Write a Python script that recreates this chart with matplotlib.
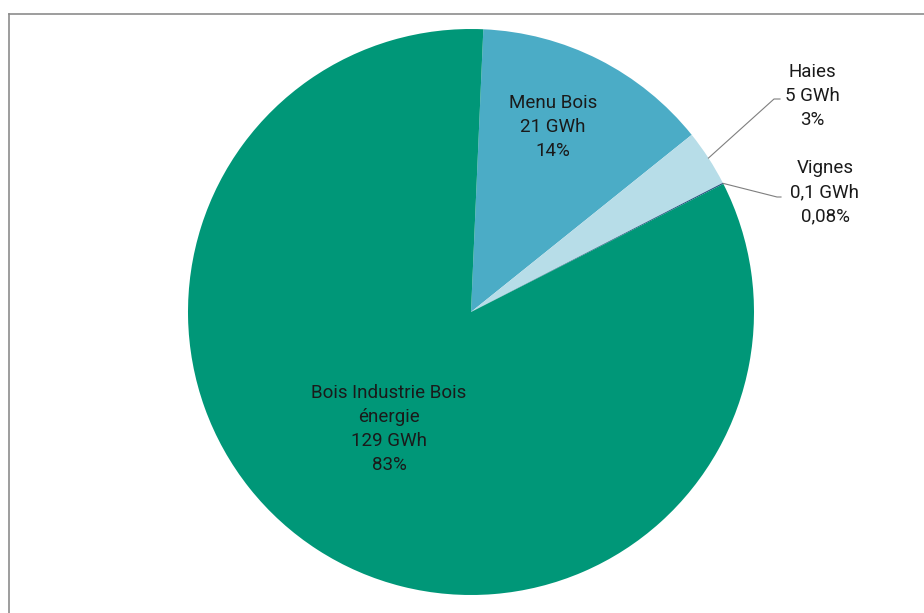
import numpy as np
import matplotlib.pyplot as plt
from matplotlib.lines import Line2D

labels = ["Menu Bois", "Haies", "Vignes", "Bois Industrie Bois\nénergie"]
gwh = [21, 5, 0.1, 129]
gwh_text = ["21 GWh", "5 GWh", "0,1 GWh", "129 GWh"]
pct_text = ["14%", "3%", "0,08%", "83%"]
colors = ["#4bacc6", "#b7dde8", "#1f497d", "#009778"]

plt.rcParams['font.family'] = ['Roboto', 'DejaVu Sans']

W, H = 924, 613
cx, cy, R = 471, 312, 283

fig = plt.figure(figsize=(W / 100, H / 100), dpi=100)
ax = fig.add_axes([0, 0, 1, 1])

wedges, _ = ax.pie(gwh, colors=colors, startangle=87.5, counterclock=False,
                   wedgeprops=dict(linewidth=0))
ax.set_xlim(-cx / R, (W - cx) / R)
ax.set_ylim(-(H - cy) / R, cy / R)
ax.set_aspect('equal')
ax.axis('off')


def px(x, y):
    return (x - cx) / R, (cy - y) / R


fs = 13.5
ls = 1.45
tcol = '#1a1a1a'
# labels inside slices
x, y = px(553, 127)
ax.text(x, y, f"{labels[0]}\n{gwh_text[0]}\n{pct_text[0]}", ha='center', va='center',
        fontsize=fs, color=tcol, linespacing=ls)
x, y = px(389, 429)
ax.text(x, y, f"{labels[3]}\n{gwh_text[3]}\n{pct_text[3]}", ha='center', va='center',
        fontsize=fs, color=tcol, linespacing=ls)

# outside labels with leader lines
outside = [(1, (812, 96), (774, 99), 6), (2, (825, 192), (777, 197), 4)]
for i, (tx, ty), (lx, ly), tail in outside:
    w = wedges[i]
    ang = np.deg2rad((w.theta1 + w.theta2) / 2)
    sx, sy = np.cos(ang), np.sin(ang)
    ex, ey = px(lx, ly)
    ax.plot([sx, ex, ex + tail / R], [sy, ey, ey], color='#7f7f7f', lw=0.8)
    x, y = px(tx, ty)
    ax.text(x, y, f"{labels[i]}\n{gwh_text[i]}\n{pct_text[i]}", ha='center', va='center',
            fontsize=fs, color=tcol, linespacing=ls)

# outer frame (top and left edges visible)
fig.add_artist(Line2D([8.5 / W, 1], [1 - 13.5 / H, 1 - 13.5 / H], color='#8c8c8c', lw=1.2))
fig.add_artist(Line2D([8.5 / W, 8.5 / W], [0, 1 - 13.5 / H], color='#8c8c8c', lw=1.2))

fig.savefig('out.png', dpi=100)
